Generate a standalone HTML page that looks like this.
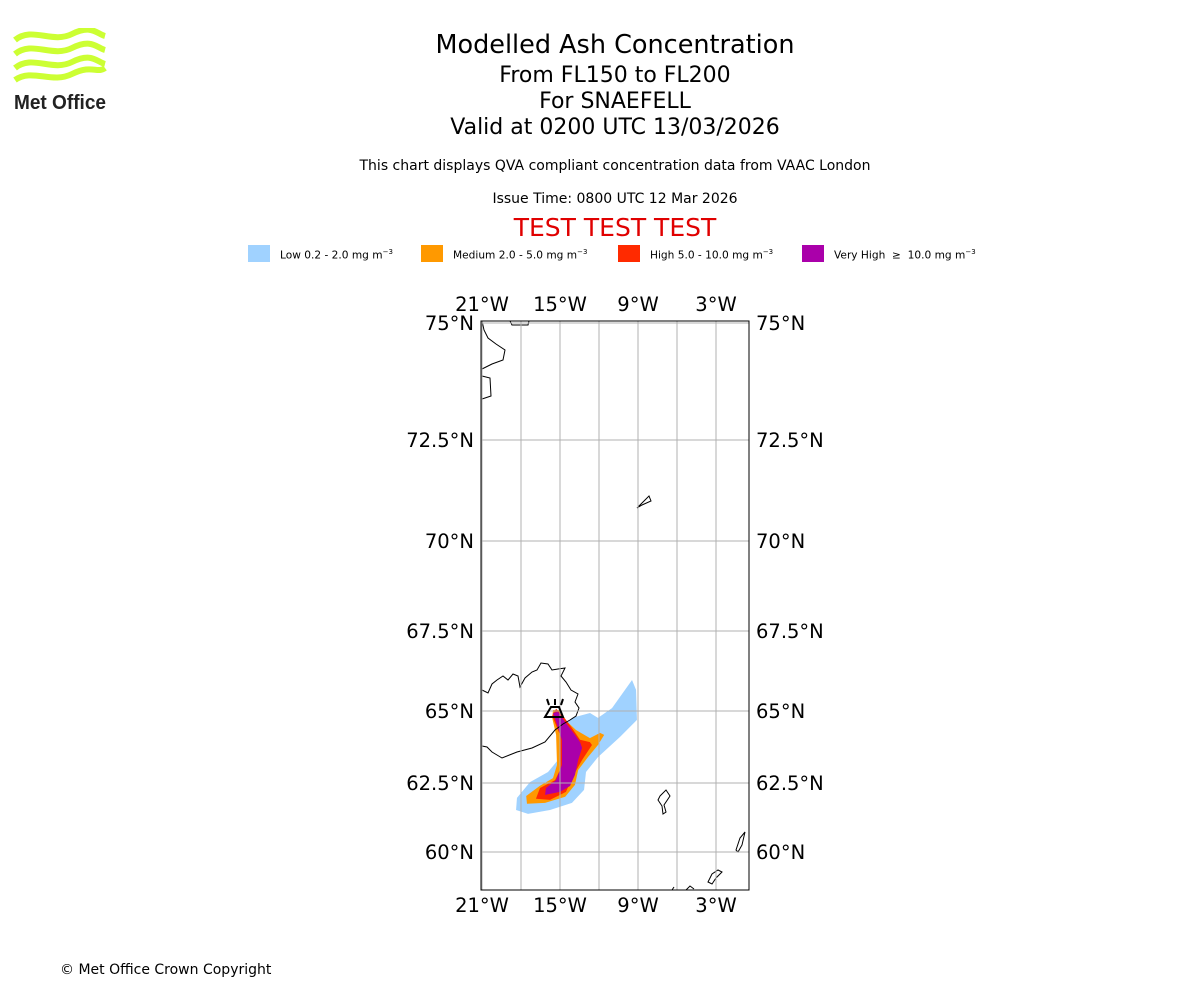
<!DOCTYPE html>
<html><head><meta charset="utf-8"><style>
body{margin:0;width:1200px;height:1000px;background:#fff;font-family:"DejaVu Sans","Liberation Sans",sans-serif;position:relative;overflow:hidden}
.t{position:absolute;left:0;width:1230px;text-align:center;color:#000}
.leg{position:absolute;top:245px;height:17px;font-size:10.6px;line-height:15px}
.leg span.sw{position:absolute;left:0;top:0;width:22px;height:17px}
.leg span.lb{position:absolute;left:32px;white-space:nowrap}
</style></head><body>
<svg style="position:absolute;left:12px;top:28px" width="96" height="86" viewBox="0 0 96 86">
<g fill="none" stroke="#ccff33" stroke-width="6">
<path d="M3 12 C20 -2,40 16,60 6 S85 6,93 8"/>
<path d="M3 26 C20 12,40 30,60 20 S85 20,93 22"/>
<path d="M3 40 C20 26,40 44,60 34 S85 34,93 36"/>
<path d="M3 52 C20 40,40 56,60 46 S85 46,93 40"/>
</g>
<text x="2" y="81" font-family="Liberation Sans,sans-serif" font-weight="bold" font-size="20" fill="#222" textLength="92" lengthAdjust="spacingAndGlyphs">Met Office</text>
</svg>
<div class="t" style="top:30px;font-size:25.5px">Modelled Ash Concentration</div>
<div class="t" style="top:63px;font-size:22px">From FL150 to FL200</div>
<div class="t" style="top:89px;font-size:22px">For SNAEFELL</div>
<div class="t" style="top:115px;font-size:22px">Valid at 0200 UTC 13/03/2026</div>
<div class="t" style="top:158px;font-size:14px">This chart displays QVA compliant concentration data from VAAC London</div>
<div class="t" style="top:191px;font-size:14px">Issue Time: 0800 UTC 12 Mar 2026</div>
<div class="t" style="top:213px;font-size:25px;color:#e00000">TEST TEST TEST</div>
<div class="leg" style="left:248px"><span class="sw" style="background:#a0d2ff"></span><span class="lb">Low 0.2 - 2.0 mg m<sup style="font-size:7px">−3</sup></span></div>
<div class="leg" style="left:421px"><span class="sw" style="background:#ff9900"></span><span class="lb">Medium 2.0 - 5.0 mg m<sup style="font-size:7px">−3</sup></span></div>
<div class="leg" style="left:618px"><span class="sw" style="background:#ff2a00"></span><span class="lb">High 5.0 - 10.0 mg m<sup style="font-size:7px">−3</sup></span></div>
<div class="leg" style="left:802px"><span class="sw" style="background:#aa00aa"></span><span class="lb">Very High &nbsp;≥ &nbsp;10.0 mg m<sup style="font-size:7px">−3</sup></span></div>
<svg id="map" style="position:absolute;left:0;top:0" width="1200" height="1000"></svg>
<div style="position:absolute;left:60px;top:962px;font-size:14px">© Met Office Crown Copyright</div>
<script>
const lonTicks=[-21,-18,-15,-12,-9,-6,-3];
const lonLabels=["21°W","15°W","9°W","3°W"];
const lonLabelVals=[-21,-15,-9,-3];
const latTicks=[75,72.5,70,67.5,65,62.5,60];
const latLabels=["75°N","72.5°N","70°N","67.5°N","65°N","62.5°N","60°N"];
const lowLon=[-9.46,-9.15,-9.08,-10.38,-12.08,-13.0,-13.15,-14.08,-15.77,-17.46,-18.38,-18.31,-17.31,-15.92,-15.15,-15.0,-14.08,-12.69,-12.08,-11.0,-10.0];
const lowLat=[65.97,65.66,64.69,64.10,63.40,62.88,62.25,61.78,61.52,61.38,61.52,61.96,62.53,62.88,63.30,64.34,64.76,64.93,64.76,65.09,65.66];
const medLon=[-11.6,-12.08,-12.85,-13.6,-13.85,-14.6,-16.15,-17.54,-17.6,-16.54,-15.54,-15.23,-15.3,-15.6,-15.54,-15.0,-14.6,-13.77,-12.7,-11.92];
const medLat=[64.17,63.82,63.40,62.95,62.43,62.0,61.78,61.75,62.03,62.4,62.67,63.13,64.17,64.76,65.03,65.03,64.69,64.34,64.06,64.24];
const highLon=[-12.54,-13.3,-14.08,-14.54,-15.77,-16.85,-16.54,-15.38,-15.0,-15.0,-15.6,-15.3,-14.77,-14.08,-13.46,-12.7];
const highLat=[63.82,63.3,62.67,62.18,61.89,61.93,62.32,62.6,62.95,64.17,64.83,65.07,64.83,64.41,64.0,63.92];
const vhLon=[-13.3,-13.6,-13.85,-14.23,-15.0,-16.15,-16.08,-15.3,-14.85,-14.85,-15.3,-15.54,-15.15,-14.6,-13.85,-13.46];
const vhLat=[63.72,63.3,62.78,62.39,62.18,62.07,62.32,62.6,63.13,63.99,64.62,64.93,64.97,64.62,64.17,63.92];
const L=481,R=749,T=321,B=890;
const latPx=[[58.9,890],[60,852],[62.5,783],[65,711],[67.5,631],[70,541],[72.5,440],[75,323],[75.1,321]];
function xS(lon){return 482+(lon+21)*13;}
function yS(lat){for(let i=0;i<latPx.length-1;i++){const a=latPx[i],b=latPx[i+1];if(lat<=b[0]||i==latPx.length-2)return a[1]+(lat-a[0])/(b[0]-a[0])*(b[1]-a[1]);}}
const svg=document.getElementById('map');const NS='http://www.w3.org/2000/svg';
function mk(t,a,p){const e=document.createElementNS(NS,t);for(const k in a)e.setAttribute(k,a[k]);(p||svg).appendChild(e);return e;}
const clip=mk('clipPath',{id:'c'});mk('rect',{x:L,y:T,width:R-L,height:B-T},clip);
const g=mk('g',{'clip-path':'url(#c)'});
[[lowLon,lowLat,'#a0d2ff','plume-low'],[medLon,medLat,'#ff9900','plume-medium'],[highLon,highLat,'#ff2a00','plume-high'],[vhLon,vhLat,'#aa00aa','plume-very-high']].forEach(s=>{
const p=mk('polygon',{points:s[0].map((v,i)=>xS(v)+','+yS(s[1][i])).join(' '),fill:s[2]},g);

});
const coasts=["M482,690 L488,693 L492,684 L497,680 L503,676 L508,680 L513,674 L518,676 L520,687 L525,678 L532,672 L537,670 L541,663 L548,664 L552,670 L558,669 L565,668 L561,676 L566,682 L571,690 L578,694 L575,702 L579,708 L576,716 L570,720 L563,724 L555,730 L545,742 L532,748 L517,752 L502,758 L492,752 L487,747 L482,746",
"M482,321 L484,330 L488,338 L496,344 L505,350 L503,360 L492,364 L482,369","M482,376 L490,378 L491,396 L482,399","M510,321 L512,325 L528,325 L529,321",
"M637,508 L643,502 L649,496 L651,501 L642,505 Z","M660,796 L666,790 L670,796 L664,805 L666,812 L663,814 L662,806 L658,800 Z",
"M736,850 L740,838 L745,832 L742,845 L738,852 Z","M686,890 L690,886 L694,889","M708,882 L712,874 L718,870 L722,872 L716,878 L712,884 Z","M672,890 L674,887"];
coasts.forEach(d=>{const c=mk('path',{d:d,fill:'none',stroke:'#000','stroke-width':1},g);

});
lonTicks.forEach(v=>{const l=mk('line',{x1:xS(v),x2:xS(v),y1:T,y2:B,stroke:'#b0b0b0','stroke-width':1},g);

});
latTicks.forEach(v=>{const l=mk('line',{x1:L,x2:R,y1:yS(v),y2:yS(v),stroke:'#b0b0b0','stroke-width':1},g);

});
const volc=mk('path',{d:'M545,717 L551,707 L559,707 L563,717 Z M545,717 L563,717 M549,705 L547,699 M555,705 L555,699 M561,705 L563,699',fill:'none',stroke:'#000','stroke-width':2},g);


const fr=mk('rect',{x:L,y:T,width:R-L,height:B-T,fill:'none',stroke:'#000','stroke-width':1});


lonLabelVals.forEach((v,i)=>{[311,912].forEach(y=>{const t=mk('text',{x:xS(v),y:y,'text-anchor':'middle','font-size':19.5,'font-family':'DejaVu Sans,sans-serif'});t.textContent=lonLabels[i];

});});
latTicks.forEach((v,i)=>{const y=yS(v)+7;
const a=mk('text',{x:474,y:y,'text-anchor':'end','font-size':19.5,'font-family':'DejaVu Sans,sans-serif'});a.textContent=latLabels[i];


const b=mk('text',{x:756,y:y,'font-size':19.5,'font-family':'DejaVu Sans,sans-serif'});b.textContent=latLabels[i];

});
</script>
</body></html>
